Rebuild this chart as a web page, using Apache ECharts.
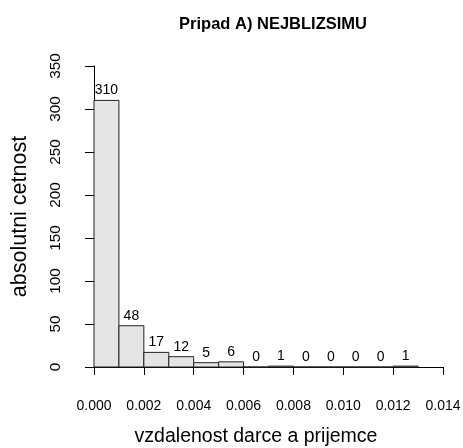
<!DOCTYPE html>
<html><head><meta charset="utf-8">
<script src="https://cdn.jsdelivr.net/npm/echarts@6/dist/echarts.min.js"></script>
<style>html,body{margin:0;padding:0;background:#fff}#c{width:463px;height:448px}</style>
</head><body><div id="c"></div>
<script>
const binStarts = [0.000,0.001,0.002,0.003,0.004,0.005,0.006,0.007,0.008,0.009,0.010,0.011,0.012];
const binWidth = 0.001;
const counts = [310,48,17,12,5,6,0,1,0,0,0,0,1];
const xTicks = [0.000,0.002,0.004,0.006,0.008,0.010,0.012,0.014];
const yTicks = [0,50,100,150,200,250,300,350];
const title = 'Pripad A) NEJBLIZSIMU';
const xTitle = 'vzdalenost darce a prijemce';
const yTitle = 'absolutni cetnost';

const font = 'Liberation Sans, Arial, sans-serif';
const data = binStarts.map((s,i)=>[s, s+binWidth, counts[i]]);
const chart = echarts.init(document.getElementById('c'));
chart.setOption({
  animation:false,
  backgroundColor:'#fff',
  title:{text:title,left:268,top:11,textAlign:'center',textStyle:{fontFamily:font,fontSize:16.5,fontWeight:'bold',color:'#000'}},
  grid:{left:94,right:20,top:66,bottom:81,containLabel:false,outerBoundsMode:'none'},
  xAxis:{type:'value',min:xTicks[0],max:xTicks[xTicks.length-1],interval:0.002,offset:12,
    name:xTitle,nameLocation:'middle',nameGap:48,
    nameTextStyle:{fontFamily:font,fontSize:19.5,color:'#000',padding:[0,25,0,0]},
    axisLine:{lineStyle:{color:'#000',width:1}},
    axisTick:{length:8,lineStyle:{color:'#000'}},
    axisLabel:{fontFamily:font,fontSize:14,color:'#000',margin:20,hideOverlap:false,formatter:v=>v.toFixed(3)},
    splitLine:{show:false}},
  yAxis:{type:'value',min:yTicks[0],max:yTicks[yTicks.length-1],interval:50,offset:14,
    name:yTitle,nameLocation:'middle',nameGap:49,
    nameTextStyle:{fontFamily:font,fontSize:21.5,color:'#000'},
    axisLine:{show:true,lineStyle:{color:'#000',width:1}},
    axisTick:{show:true,length:9,lineStyle:{color:'#000'}},
    axisLabel:{fontFamily:font,fontSize:15.3,color:'#000',rotate:90,margin:17},
    splitLine:{show:false}},
  series:[{type:'custom',data:data,encode:{x:[0,1],y:2},
    renderItem:function(params,api){
      const p0=api.coord([api.value(0),api.value(2)]);
      const p1=api.coord([api.value(1),0]);
      return {type:'group',children:[
        {type:'rect',shape:{x:p0[0],y:p0[1],width:p1[0]-p0[0],height:p1[1]-p0[1]},
         style:{fill:'#e5e5e5',stroke:'#222',lineWidth:1}},
        {type:'text',style:{text:String(api.value(2)),x:(p0[0]+p1[0])/2,y:p0[1]-3,
          textAlign:'center',textVerticalAlign:'bottom',fontFamily:font,fontSize:14,fill:'#000'}}
      ]};
    }}]
});
</script></body></html>
